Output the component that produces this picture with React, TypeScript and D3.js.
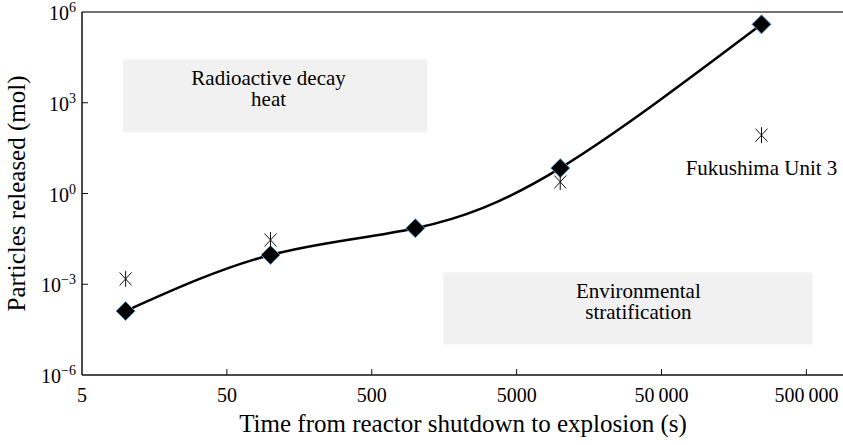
import * as d3 from "d3";

// explosion time after shutdown (s) and particles released (mol)
const modelTimes = [10, 100, 1000, 10000, 245000];
const modelParticles = [1.3e-4, 0.0093, 0.071, 6.9, 3.9e5];

const obsTimes = [10, 100, 10000, 245000];
const obsParticles = [1.5e-3, 0.029, 2.4, 85];

const xTicks = [5, 50, 500, 5000, 50000, 500000];
const xTickLabels = ["5", "50", "500", "5000", "50\u2009000", "500\u2009000"];
const yExponents = [6, 3, 0, -3, -6];

// shaded regions in data space: [x0, x1, y0, y1]
const regionNames = [["Radioactive decay", "heat"], ["Environmental", "stratification"]];
const regionBoxes = [
  [9.6, 1210, 10 ** 4.43, 10 ** 2.02],
  [1560, 5.5e5, 10 ** -2.61, 10 ** -4.99],
];
const regionLabelAt = [
  [97, 10 ** 3.25],
  [34600, 10 ** -3.8],
];

const W = 843;
const H = 445;
const left = 82;
const top = 12;
const bottom = 375;
const font = "Liberation Serif, DejaVu Serif, serif";

export default function App() {
  const x = d3.scaleLog().domain([5, 1e6]).range([left, 850]);
  const y = d3.scaleLog().domain([1e-6, 1e6]).range([bottom, top]);

  const line = d3
    .line<number>()
    .x((_, i) => x(modelTimes[i]))
    .y((d) => y(d))
    .curve(d3.curveNatural);

  const diamond = (cx: number, cy: number, r: number) =>
    `M${cx},${cy - r}L${cx + r},${cy}L${cx},${cy + r}L${cx - r},${cy}Z`;

  const star = (cx: number, cy: number) =>
    `M${cx - 6},${cy - 6.5}L${cx + 6},${cy + 6.5}M${cx + 6},${cy - 6.5}L${cx - 6},${cy + 6.5}M${cx},${cy - 8}L${cx},${cy + 8}`;

  const txt = { fontFamily: font };

  return (
    <svg
      width={W}
      height={H}
      style={{ position: "absolute", left: 0, top: 0, background: "#fff", fontFamily: font }}
    >
      {regionBoxes.map((b, i) => (
        <g key={i}>
          <rect
            x={x(b[0])}
            y={y(b[2])}
            width={x(b[1]) - x(b[0])}
            height={y(b[3]) - y(b[2])}
            fill="#f1f1f1"
          />
          <text
            x={x(regionLabelAt[i][0])}
            y={y(regionLabelAt[i][1])}
            fontSize={21}
            textAnchor="middle"
            style={txt}
          >
            <tspan x={x(regionLabelAt[i][0])} dy={-10}>{regionNames[i][0]}</tspan>
            <tspan x={x(regionLabelAt[i][0])} dy={21}>{regionNames[i][1]}</tspan>
          </text>
        </g>
      ))}

      {/* frame */}
      <line x1={left} x2={W} y1={top} y2={top} stroke="#444" strokeWidth={1.3} />
      <line x1={left} x2={left} y1={top} y2={bottom} stroke="#111" strokeWidth={1.5} />
      <line x1={left} x2={W} y1={bottom} y2={bottom} stroke="#111" strokeWidth={1.5} />

      {xTicks.map((t, i) => (
        <g key={t}>
          {i > 0 && (
            <line x1={x(t)} x2={x(t)} y1={bottom} y2={bottom - 6} stroke="#111" strokeWidth={1} />
          )}
          <text x={x(t)} y={402} fontSize={20} textAnchor="middle" style={txt}>
            {xTickLabels[i]}
          </text>
        </g>
      ))}

      {yExponents.map((e) => (
        <g key={e}>
          {e !== 6 && e !== -6 && (
            <line x1={left} x2={left + 6} y1={y(10 ** e)} y2={y(10 ** e)} stroke="#111" strokeWidth={1} />
          )}
          <text x={76} y={y(10 ** e) + 8} fontSize={20} textAnchor="end" style={txt}>
            10
            <tspan fontSize={14} dy={-8}>
              {e < 0 ? `\u2212${-e}` : `${e}`}
            </tspan>
          </text>
        </g>
      ))}

      <path d={line(modelParticles) ?? ""} fill="none" stroke="#000" strokeWidth={2.5} />

      {modelParticles.map((v, i) => (
        <path
          key={i}
          d={diamond(x(modelTimes[i]), y(v), 9.5)}
          fill="#000"
          stroke="#5b9bd5"
          strokeWidth={1}
        />
      ))}

      {obsParticles.map((v, i) => (
        <path key={i} d={star(x(obsTimes[i]), y(v))} stroke="#111" strokeWidth={1} fill="none" />
      ))}

      <text
        x={x(obsTimes[3])}
        y={y(obsParticles[3]) + 40}
        fontSize={21}
        textAnchor="middle"
        style={txt}
      >
        Fukushima Unit 3
      </text>

      <text x={463} y={432} fontSize={25} textAnchor="middle" style={txt}>
        Time from reactor shutdown to explosion (s)
      </text>
      <text
        transform={`translate(25,${(top + bottom) / 2}) rotate(-90)`}
        fontSize={25}
        textAnchor="middle"
        style={txt}
      >
        Particles released (mol)
      </text>
    </svg>
  );
}
